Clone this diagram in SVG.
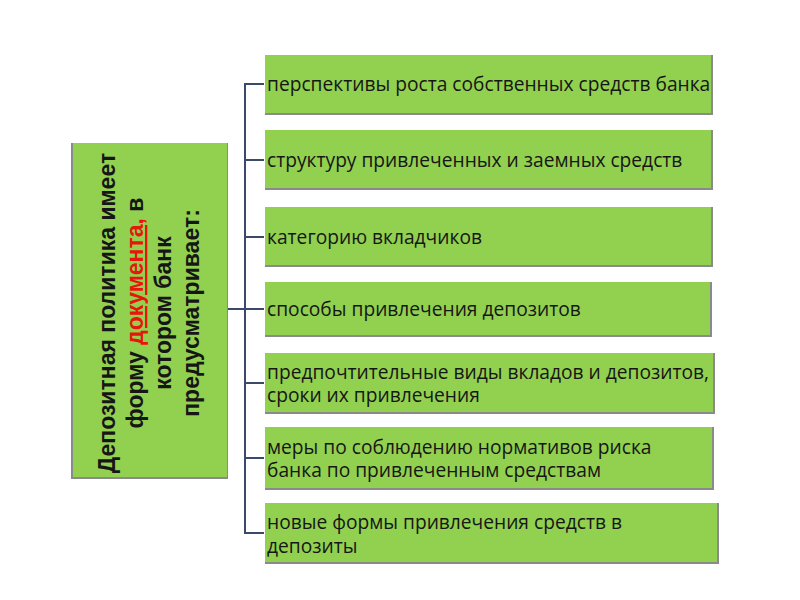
<svg xmlns="http://www.w3.org/2000/svg" width="800" height="600" viewBox="0 0 800 600">
<style>
.box{fill:#92D050}
.shadow{fill:#8a8a8a}
.t{font-family:"Open Sans","Liberation Sans",sans-serif;font-size:19.2px;fill:#161616}
.h{font-family:"Liberation Sans",Arial,sans-serif;font-size:23px;font-weight:bold;fill:#161616;text-anchor:middle}
.red{fill:#E8150C;text-decoration:underline}
.conn{stroke:#3B4A6B;stroke-width:2;fill:none}
</style>
<rect width="800" height="600" fill="#ffffff"/>
<g id="connectors">
<line class="conn" x1="227" y1="309" x2="246" y2="309" stroke-width="3"/>
<path class="conn" d="M264,84 H245 V533 H264"/>
<line class="conn" x1="245" y1="160" x2="264" y2="160"/>
<line class="conn" x1="245" y1="237" x2="264" y2="237"/>
<line class="conn" x1="245" y1="309" x2="264" y2="309"/>
<line class="conn" x1="245" y1="383" x2="264" y2="383"/>
<line class="conn" x1="245" y1="458" x2="264" y2="458"/>
</g>
<g id="main">
<rect class="shadow" x="71" y="143" width="157" height="336"/>
<rect class="box" x="73" y="143" width="154" height="334"/>
<g transform="translate(0,313) rotate(-90)">
<text class="h" x="0" y="115">Депозитная политика имеет</text>
<text class="h" x="0" y="143">форму <tspan class="red">документа,</tspan> в</text>
<text class="h" x="0" y="171">котором банк</text>
<text class="h" x="0" y="199">предусматривает:</text>
</g>
</g>
<g id="n1">
<rect class="shadow" x="265" y="55" width="448" height="60"/>
<rect class="box" x="265" y="55" width="446" height="58"/>
<text class="t" x="267" y="91">перспективы роста собственных средств банка</text>
</g>
<g id="n2">
<rect class="shadow" x="265" y="130" width="448" height="60"/>
<rect class="box" x="265" y="130" width="446" height="58"/>
<text class="t" x="267" y="167">структуру привлеченных и заемных средств</text>
</g>
<g id="n3">
<rect class="shadow" x="265" y="207" width="448" height="60"/>
<rect class="box" x="265" y="207" width="446" height="58"/>
<text class="t" x="267" y="244">категорию вкладчиков</text>
</g>
<g id="n4">
<rect class="shadow" x="265" y="282" width="447" height="55"/>
<rect class="box" x="265" y="282" width="445" height="53"/>
<text class="t" x="267" y="316">способы привлечения депозитов</text>
</g>
<g id="n5">
<rect class="shadow" x="265" y="353" width="450" height="61"/>
<rect class="box" x="265" y="353" width="448" height="59"/>
<text class="t" x="267" y="379">предпочтительные виды вкладов и депозитов,</text>
<text class="t" x="267" y="402">сроки их привлечения</text>
</g>
<g id="n6">
<rect class="shadow" x="265" y="427" width="449" height="63"/>
<rect class="box" x="265" y="427" width="447" height="61"/>
<text class="t" x="267" y="454">меры по соблюдению нормативов риска</text>
<text class="t" x="267" y="477">банка по привлеченным средствам</text>
</g>
<g id="n7">
<rect class="shadow" x="265" y="503" width="454" height="61"/>
<rect class="box" x="265" y="503" width="452" height="59"/>
<text class="t" x="267" y="529">новые формы привлечения средств в</text>
<text class="t" x="267" y="553">депозиты</text>
</g>
</svg>
